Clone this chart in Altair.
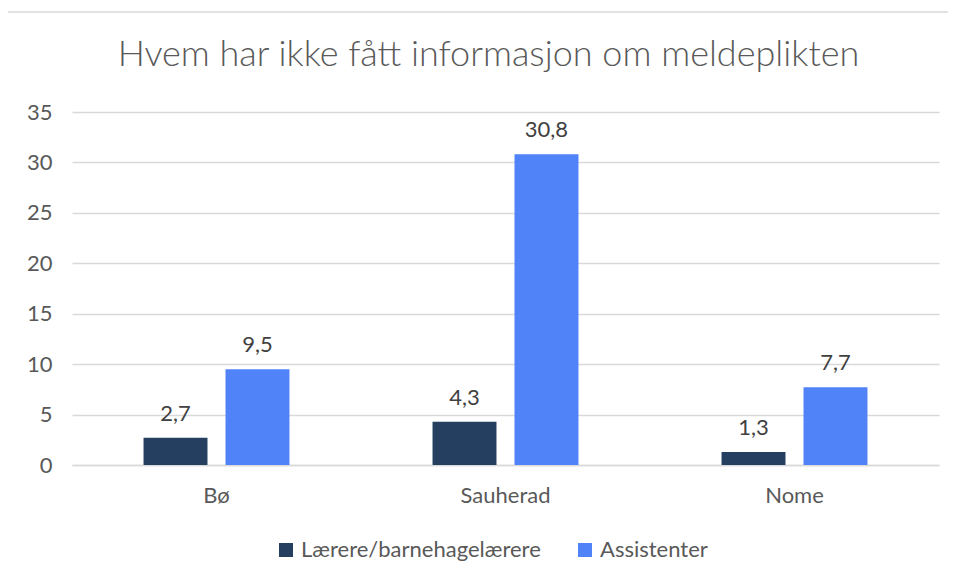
import altair as alt
import pandas as pd

kommuner = ["Bø", "Sauherad", "Nome"]
serier = ["Lærere/barnehagelærere", "Assistenter"]
laerere = [2.7, 4.3, 1.3]
assistenter = [9.5, 30.8, 7.7]
y_ticks = [0, 5, 10, 15, 20, 25, 30, 35]
farger = ["#243F60", "#4F83F7"]

rows = []
for i, k in enumerate(kommuner):
    rows.append({"kommune": k, "serie": serier[0], "v": laerere[i]})
    rows.append({"kommune": k, "serie": serier[1], "v": assistenter[i]})
df = pd.DataFrame(rows)

FONT = "Lato"
GREY = "#595959"
FS = 22

x_enc = alt.X(
    "kommune:N",
    sort=kommuner,
    scale=alt.Scale(paddingInner=0.495, paddingOuter=0.2475),
    axis=alt.Axis(
        title=None, labelAngle=0, ticks=False, domainColor="#d9d9d9", domainWidth=1.3,
        labelPadding=20, labelFontSize=FS, labelColor=GREY, labelFont=FONT,
    ),
)
xoff = alt.XOffset("serie:N", sort=serier, scale=alt.Scale(paddingInner=0.22, paddingOuter=0))
y_enc = alt.Y(
    "v:Q",
    scale=alt.Scale(domain=[0, 35], nice=False),
    axis=alt.Axis(
        title=None, values=y_ticks, domain=False, ticks=False, gridColor="#d9d9d9", gridWidth=1.3,
        labelPadding=20, labelFontSize=FS, labelColor=GREY, labelFont=FONT,
    ),
)

base = alt.Chart(df)
bars = base.mark_bar().encode(
    x=x_enc,
    xOffset=xoff,
    y=y_enc,
    color=alt.Color(
        "serie:N",
        sort=serier,
        scale=alt.Scale(domain=serier, range=farger),
        legend=alt.Legend(
            title=None, orient="none", legendX=203, legendY=427, direction="horizontal",
            symbolType="square", symbolSize=196, symbolStrokeWidth=0, labelFontSize=FS,
            labelColor=GREY, labelFont=FONT, labelLimit=400, columnPadding=33, padding=0,
            symbolOpacity=1,
        ),
    ),
)
labels = base.transform_calculate(
    lab="replace(format(datum.v, '.1f'), '.', ',')"
).mark_text(baseline="bottom", dy=-12, fontSize=FS, color="#404040", font=FONT).encode(
    x=alt.X("kommune:N", sort=kommuner),
    xOffset=alt.XOffset("serie:N", sort=serier),
    y=alt.Y("v:Q"),
    text="lab:N",
)
frame = alt.Chart(pd.DataFrame({"a": [0]})).mark_rect(
    fillOpacity=0, stroke="#d9d9d9", strokeWidth=1.5
).encode(
    x=alt.value(-65), x2=alt.value(900), y=alt.value(-100), y2=alt.value(490)
)

chart = alt.layer(frame, bars, labels).properties(
    width=867,
    height=353,
    autosize=alt.AutoSizeParams(type="none"),
    padding={"left": 64, "top": 104, "right": 9, "bottom": 108},
    title=alt.TitleParams(
        "Hvem har ikke fått informasjon om meldeplikten",
        fontSize=36, font=FONT, fontWeight=300, color=GREY, anchor="middle", offset=-63, dx=-17,
    ),
).configure_view(stroke=None)

chart.save("out.html", embed_options={"renderer": "svg", "actions": False})
